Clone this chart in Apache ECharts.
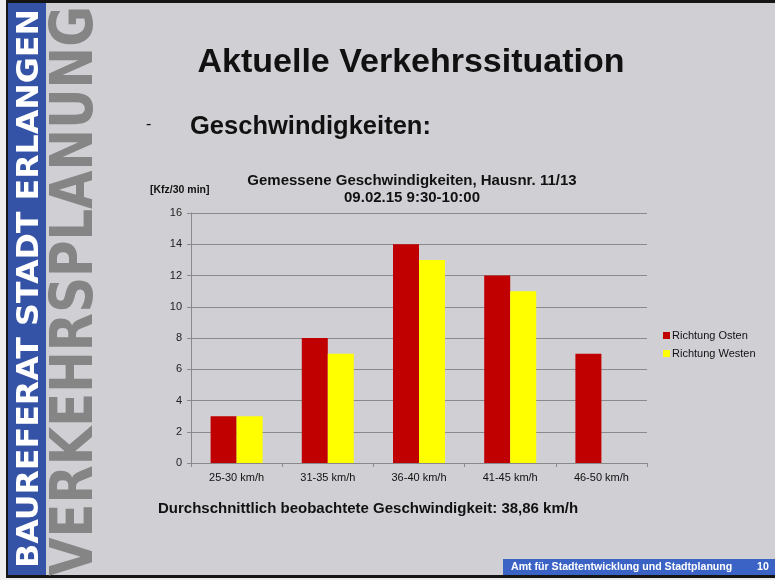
<!DOCTYPE html>
<html>
<head>
<meta charset="utf-8">
<script src="https://cdn.jsdelivr.net/npm/echarts@6/dist/echarts.min.js"></script>
<style>
  html, body { margin: 0; padding: 0; background: #eeeeee; }
  #chart { width: 775px; height: 580px; }
</style>
</head>
<body>
<div id="chart"></div>
<script>
// Speed classes and vehicle counts per direction (Kfz / 30 min)
const categories = ['25-30 km/h', '31-35 km/h', '36-40 km/h', '41-45 km/h', '46-50 km/h'];
const eastCounts = [3, 8, 14, 12, 7];
const westCounts = [3, 7, 13, 11, 0];
const seriesNames = ['Richtung Osten', 'Richtung Westen'];
const yTicks = { min: 0, max: 16, interval: 2 };

const slideBg = '#d0cfd4';
const sansFont = '"Liberation Sans", Arial, sans-serif';
const sideFont = '"DejaVu Sans", sans-serif';

// width of a string in a given font, used to stretch the vertical side texts
function textWidth(str, font) {
  const ctx = document.createElement('canvas').getContext('2d');
  ctx.font = font;
  return ctx.measureText(str).width;
}

// vertical text reading from bottom to top, stretched to a fixed length
function sideText(str, size, cx, bottom, top, color) {
  const w = textWidth(str, 'bold ' + size + 'px ' + sideFont);
  return {
    type: 'text',
    x: cx, y: bottom,
    rotation: Math.PI / 2,
    scaleX: (bottom - top) / w,
    style: {
      text: str, fill: color,
      font: 'bold ' + size + 'px ' + sideFont,
      textAlign: 'left', textVerticalAlign: 'middle'
    },
    silent: true
  };
}

const chart = echarts.init(document.getElementById('chart'));
chart.setOption({
  backgroundColor: '#eeeeee',
  animation: false,
  textStyle: { fontFamily: sansFont },
  graphic: [
    // slide body with its dark frame
    { type: 'rect', shape: { x: 6, y: 0, width: 775, height: 578 }, style: { fill: '#151515' }, z: -20 },
    { type: 'rect', shape: { x: 8, y: 3, width: 775, height: 572 }, style: { fill: slideBg }, z: -19 },
    // blue side strip
    { type: 'rect', shape: { x: 8, y: 3, width: 38, height: 572 }, style: { fill: '#3553a6' }, z: -18 },
    sideText('BAUREFERAT STADT ERLANGEN', 31, 30, 568, 9, '#ffffff'),
    sideText('VERKEHRSPLANUNG', 58, 77, 576, 6, '#858585'),
    // slide headings
    { type: 'text', x: 411, y: 63, style: { text: 'Aktuelle Verkehrssituation', font: 'bold 34px ' + sansFont, fill: '#111', textAlign: 'center', textVerticalAlign: 'middle' } },
    { type: 'text', x: 146, y: 125, style: { text: '-', font: '16px ' + sansFont, fill: '#111', textVerticalAlign: 'middle' } },
    { type: 'text', x: 190, y: 127, style: { text: 'Geschwindigkeiten:', font: 'bold 25.5px ' + sansFont, fill: '#111', textVerticalAlign: 'middle' } },
    // chart heading and unit
    { type: 'text', x: 412, y: 181, style: { text: 'Gemessene Geschwindigkeiten, Hausnr. 11/13', font: 'bold 15px ' + sansFont, fill: '#111', textAlign: 'center', textVerticalAlign: 'middle' } },
    { type: 'text', x: 412, y: 198, style: { text: '09.02.15 9:30-10:00', font: 'bold 15px ' + sansFont, fill: '#111', textAlign: 'center', textVerticalAlign: 'middle' } },
    { type: 'text', x: 150, y: 190, style: { text: '[Kfz/30 min]', font: 'bold 10.5px ' + sansFont, fill: '#111', textVerticalAlign: 'middle' } },
    // summary line
    { type: 'text', x: 158, y: 509, style: { text: 'Durchschnittlich beobachtete Geschwindigkeit: 38,86 km/h', font: 'bold 15px ' + sansFont, fill: '#111', textVerticalAlign: 'middle' } },
    // footer
    { type: 'rect', shape: { x: 503, y: 559, width: 272, height: 16 }, style: { fill: '#3b63c6' } },
    { type: 'text', x: 511, y: 567, style: { text: 'Amt für Stadtentwicklung und Stadtplanung', font: 'bold 10.6px ' + sansFont, fill: '#ffffff', textVerticalAlign: 'middle' } },
    { type: 'text', x: 757, y: 567, style: { text: '10', font: 'bold 10.6px ' + sansFont, fill: '#ffffff', textVerticalAlign: 'middle' } }
  ],
  legend: {
    orient: 'vertical',
    left: 658, top: 325,
    icon: 'rect',
    itemWidth: 7, itemHeight: 7, itemGap: 7,
    textStyle: { fontSize: 11, color: '#111', padding: [0, 0, 0, -3] },
    data: seriesNames
  },
  grid: { left: 191, right: 128, top: 213, bottom: 117, containLabel: false },
  xAxis: {
    type: 'category',
    data: categories,
    axisLine: { lineStyle: { color: '#8a8a8a' } },
    axisTick: { show: true, length: 4, lineStyle: { color: '#8a8a8a' } },
    axisLabel: { fontSize: 11, color: '#111', margin: 9 }
  },
  yAxis: {
    type: 'value',
    min: yTicks.min, max: yTicks.max, interval: yTicks.interval,
    axisLine: { show: true, lineStyle: { color: '#8a8a8a' } },
    axisTick: { show: true, length: 4, lineStyle: { color: '#8a8a8a' } },
    axisLabel: { fontSize: 11, color: '#222', margin: 9 },
    splitLine: { lineStyle: { color: '#8a8a8a' } }
  },
  series: [
    { name: seriesNames[0], type: 'bar', data: eastCounts, barWidth: 26, barGap: '0%', itemStyle: { color: '#c00000' } },
    { name: seriesNames[1], type: 'bar', data: westCounts, barWidth: 26, barGap: '0%', itemStyle: { color: '#ffff00' } }
  ]
});
</script>
</body>
</html>
